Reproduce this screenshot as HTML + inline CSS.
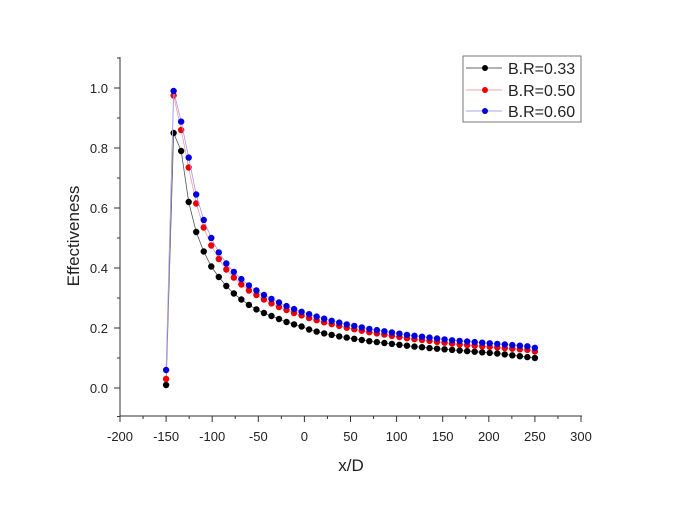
<!DOCTYPE html>
<html><head><meta charset="utf-8"><style>
body{margin:0;background:#fff;}
svg text{font-family:"Liberation Sans",Arial,sans-serif;fill:#222;}
</style></head><body>
<svg id="chart" width="675" height="502" xmlns="http://www.w3.org/2000/svg">
<g id="axes"></g>
<g id="series"></g>
<text x="0" y="0" font-size="17" text-anchor="middle" transform="translate(79,236) rotate(-90)">Effectiveness</text>
<text x="351" y="471" font-size="17" text-anchor="middle">x/D</text>
<g>
<rect x="463" y="56" width="118" height="66" fill="#fff" stroke="#555" stroke-width="0.8"/>
<g><line x1="466" y1="68" x2="502" y2="68" stroke="#333" stroke-width="0.8"/><circle cx="485" cy="68" r="3" fill="#000"/><text x="508" y="74" font-size="16">B.R=0.33</text></g>
<g><line x1="466" y1="90" x2="502" y2="90" stroke="#e88" stroke-width="0.8"/><circle cx="485" cy="90" r="3" fill="#e00"/><text x="508" y="96" font-size="16">B.R=0.50</text></g>
<g><line x1="466" y1="111" x2="502" y2="111" stroke="#88e" stroke-width="0.8"/><circle cx="485" cy="111" r="3" fill="#00d"/><text x="508" y="117" font-size="16">B.R=0.60</text></g>
</g>
</svg>
<script>
const xStart=-150, xEnd=250;
const br033=[0.01,0.85,0.79,0.62,0.52,0.455,0.405,0.37,0.34,0.315,0.295,0.277,0.262,0.25,0.24,0.23,0.22,0.212,0.205,0.195,0.188,0.182,0.177,0.172,0.168,0.164,0.16,0.156,0.153,0.15,0.147,0.144,0.141,0.138,0.136,0.133,0.131,0.129,0.127,0.125,0.123,0.121,0.119,0.117,0.115,0.112,0.109,0.106,0.103,0.10];
const br050=[0.03,0.975,0.86,0.735,0.615,0.535,0.475,0.43,0.395,0.368,0.345,0.325,0.31,0.295,0.282,0.27,0.26,0.25,0.242,0.233,0.226,0.219,0.213,0.207,0.201,0.196,0.191,0.186,0.182,0.178,0.174,0.17,0.166,0.163,0.16,0.157,0.154,0.151,0.148,0.145,0.143,0.141,0.139,0.137,0.135,0.133,0.131,0.129,0.127,0.122];
const br060=[0.06,0.99,0.888,0.768,0.645,0.56,0.5,0.452,0.415,0.387,0.363,0.342,0.325,0.31,0.297,0.285,0.273,0.263,0.254,0.246,0.238,0.231,0.224,0.218,0.212,0.207,0.202,0.197,0.193,0.189,0.185,0.181,0.177,0.174,0.171,0.168,0.165,0.162,0.159,0.157,0.155,0.153,0.151,0.149,0.147,0.145,0.143,0.141,0.139,0.134];
const xTicks=[-200,-150,-100,-50,0,50,100,150,200,250,300];
const yTicks=[0.0,0.2,0.4,0.6,0.8,1.0];
const NS="http://www.w3.org/2000/svg";
function sx(v){return 120+(v+200)*(461/500);}
function sy(v){return 388-v*300;}
function el(t,a,p){const e=document.createElementNS(NS,t);for(const k in a)e.setAttribute(k,a[k]);p.appendChild(e);return e;}
const ax=document.getElementById('axes');
let l=el('line',{x1:120,y1:57,x2:120,y2:416,stroke:'#333','stroke-width':1},ax);


l=el('line',{x1:120,y1:416,x2:582,y2:416,stroke:'#333','stroke-width':1},ax);


xTicks.forEach((v,i)=>{
  const x=sx(v);
  el('line',{x1:x,y1:416,x2:x,y2:422,stroke:'#333'},ax);
  if(i<xTicks.length-1){const m=sx(v+25);el('line',{x1:m,y1:416,x2:m,y2:419,stroke:'#333'},ax);}
  const t=el('text',{x:x,y:441,'font-size':13,'text-anchor':'middle'},ax);
  t.textContent=v;
  
  
});
yTicks.forEach(v=>{
  const y=sy(v);
  el('line',{x1:114,y1:y,x2:120,y2:y,stroke:'#333'},ax);
  el('line',{x1:117,y1:sy(v+0.1),x2:120,y2:sy(v+0.1),stroke:'#333'},ax);
  const t=el('text',{x:108,y:y+5,'font-size':13,'text-anchor':'end'},ax);
  t.textContent=v.toFixed(1);
  
  
});
el('line',{x1:117,y1:sy(-0.1+0.005),x2:120,y2:sy(-0.1+0.005),stroke:'#333'},ax);
const sg=document.getElementById('series');
[[br033,'#000','#555','br033'],[br050,'#e00','#f99','br050'],[br060,'#00d','#99f','br060']].forEach(([d,c,lc,n])=>{
  const g=el('g',{},sg);
  
  
  const step=(xEnd-xStart)/(d.length-1);
  const pts=d.map((v,i)=>sx(xStart+i*step).toFixed(1)+','+sy(v).toFixed(1)).join(' ');
  el('polyline',{points:pts,fill:'none',stroke:lc,'stroke-width':0.8},g);
  d.forEach((v,i)=>{
    const c2=el('circle',{cx:sx(xStart+i*step),cy:sy(v),r:3.2,fill:c},g);
    
    
  });
});
</script>
</body></html>
